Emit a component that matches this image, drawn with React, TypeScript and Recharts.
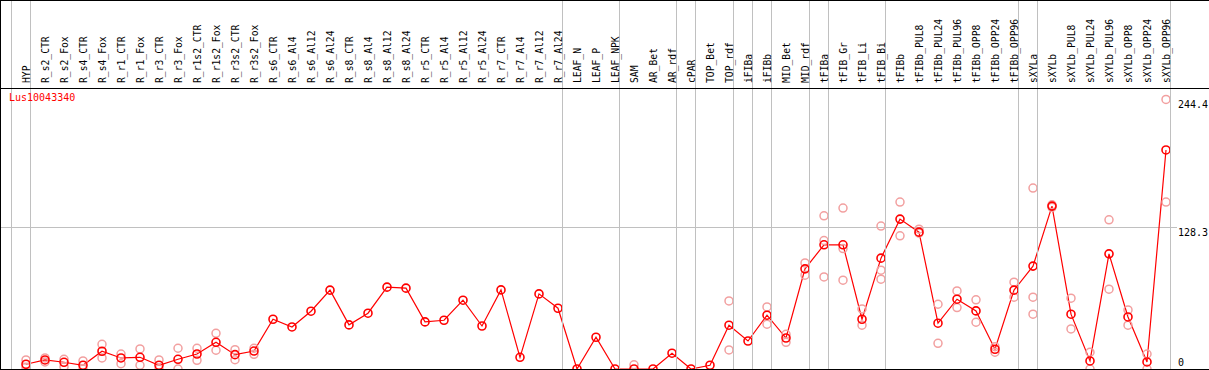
import React from "react";
import {
  ComposedChart,
  Line,
  XAxis,
  YAxis,
  ReferenceLine,
} from "recharts";

// sample names, left to right
const categories = [
  "HYP", "R_s2_CTR", "R_s2_Fox", "R_s4_CTR", "R_s4_Fox", "R_r1_CTR", "R_r1_Fox",
  "R_r3_CTR", "R_r3_Fox", "R_r1s2_CTR", "R_r1s2_Fox", "R_r3s2_CTR", "R_r3s2_Fox",
  "R_s6_CTR", "R_s6_Al4", "R_s6_Al12", "R_s6_Al24", "R_s8_CTR", "R_s8_Al4",
  "R_s8_Al12", "R_s8_Al24", "R_r5_CTR", "R_r5_Al4", "R_r5_Al12", "R_r5_Al24",
  "R_r7_CTR", "R_r7_Al4", "R_r7_Al12", "R_r7_Al24", "LEAF_N", "LEAF_P", "LEAF_NPK",
  "SAM", "AR_Bet", "AR_rdf", "cPAR", "TOP_Bet", "TOP_rdf", "iFIBa", "iFIBb",
  "MID_Bet", "MID_rdf", "tFIBa", "tFIB_Gr", "tFIB_Li", "tFIB_Bi", "tFIBb",
  "tFIBb_PUL8", "tFIBb_PUL24", "tFIBb_PUL96", "tFIBb_OPP8", "tFIBb_OPP24",
  "tFIBb_OPP96", "sXYLa", "sXYLb", "sXYLb_PUL8", "sXYLb_PUL24", "sXYLb_PUL96",
  "sXYLb_OPP8", "sXYLb_OPP24", "sXYLb_OPP96",
];

// mean expression
const meanValues = [
  4.3, 8.2, 6.1, 3.4, 16.1, 10.0, 10.6, 3.4, 8.8, 13.6, 24.2, 13.0, 16.3,
  45.1, 38.1, 52.4, 71.5, 40.0, 50.6, 74.2, 73.3, 42.7, 44.2, 62.4, 39.0,
  71.7, 10.6, 68.1, 55.1, 0, 28.8, 0,
  0, 0, 14.3, 0, 3.4, 39.7, 25.4, 48.8, 28.1, 90.8, 112.6, 112.6, 45.1, 100.5,
  135.9, 124.1, 41.5, 63.3, 52.7, 17.9, 71.5, 93.3, 147.7, 49.7, 7.3, 104.4,
  47.2, 6.4, 198.6,
];

// replicates (null where hidden under the mean marker)
const rep1 = [
  8.2, 10.0, 8.8, 7.3, 22.4, 13.6, 18.2, 8.2, 18.8, 18.8, 32.4, 17.5, 18.8,
  null, null, null, null, null, null, null, null, null, null, null, null,
  null, null, null, null, null, null, null,
  3.8, null, null, null, null, 61.7, null, 56.3, 31.5, 96.2, 138.9, 145.9, 54.5, 129.6,
  151.4, 126.8, 58.7, 70.8, 62.7, 20.2, 78.7, 164.1, 148.9, 64.2, 15.2, 135.3,
  53.6, 13.6, 244.4,
];
const rep2 = [
  1.5, 6.4, 2.1, 0, 10.0, 4.8, 3.4, 0, 0, 7.9, 17.0, 8.4, 13.3,
  null, null, null, null, null, null, null, null, null, null, null, null,
  null, null, null, null, null, null, null,
  null, null, null, null, null, 17.3, null, 40.6, 24.2, 85.1, 116.5, 109.2, 39.7, 89.6,
  120.8, 123.2, 23.3, 55.7, 42.4, 15.2, 65.1, 65.1, 146.6, 36.3, 0, 72.4,
  39.7, 0, 151.4,
];
const rep3 = [
  null, null, null, null, null, null, null, null, null, null, null, null, null,
  null, null, null, null, null, null, null, null, null, null, null, null,
  null, null, null, null, null, null, null,
  null, null, null, null, null, null, null, null, null, null, 83.5, 80.5, null, 81.4,
  null, null, null, null, null, null, null, 49.7, null, null, null, null,
  null, null, null,
];

// groups end after these samples (grey separators)
const groupEnds = [
  "HYP", "R_r7_Al24", "LEAF_NPK", "AR_rdf", "cPAR", "TOP_rdf", "iFIBa", "iFIBb",
  "MID_rdf", "tFIBa", "tFIB_Bi", "tFIBb_OPP96", "sXYLa", "sXYLb_OPP96",
];

const yTicks = [0, 128.3, 244.4];
const geneId = "Lus10043340";

const MONO = "DejaVu Sans Mono";
const RED = "#ff0000";
const PINK = "#f2a0a0";
const GREY = "#c0c0c0";

const data = categories.map((name, i) => ({
  idx: i,
  name,
  mean: meanValues[i],
  r1: rep1[i],
  r2: rep2[i],
  r3: rep3[i],
}));

const sepIdx = new Set<number>([-1, ...groupEnds.map((g) => categories.indexOf(g))]);

const SampleTick = (props: any) => {
  const { x, payload } = props;
  const i = payload.value as number;
  const label = categories[i];
  return (
    <g>
      {sepIdx.has(i) && (
        <line x1={x + 4.5} x2={x + 4.5} y1={0} y2={369} stroke={GREY} strokeWidth={1} />
      )}
      {label && (
        <text
          x={x}
          y={83}
          transform={`rotate(-90, ${x}, 83)`}
          textAnchor="start"
          dominantBaseline="central"
          fontFamily={MONO}
          fontSize={9.7}
          fill="#000"
        >
          {label}
        </text>
      )}
    </g>
  );
};

const ValueTick = (props: any) => {
  const { y, payload } = props;
  return (
    <text
      x={1178}
      y={Math.min(y + 5, 362)}
      dominantBaseline="central"
      fontFamily={MONO}
      fontSize={10}
      fill="#000"
    >
      {String(payload.value)}
    </text>
  );
};

const RepDot = (props: any) => {
  const { cx, cy, value, index } = props;
  if (value == null || cy == null) return <g key={`e${index}`} />;
  return (
    <circle
      key={`r${index}`}
      cx={cx}
      cy={cy}
      r={4}
      fill="none"
      stroke={PINK}
      strokeWidth={1.5}
    />
  );
};

export default function App() {
  const sampleTicks = [-1, ...categories.map((_, i) => i)];
  return (
    <div style={{ position: "absolute", left: 0, top: 0, width: 1209, height: 370, background: "#fff" }}>
      <ComposedChart
        width={1209}
        height={370}
        data={data}
        margin={{ top: 0, right: 0, bottom: 1, left: 0 }}
      >
        <XAxis
          type="number"
          dataKey="idx"
          orientation="top"
          height={86}
          domain={[-26 / 19, 1151 / 19]}
          allowDataOverflow
          ticks={sampleTicks}
          interval={0}
          axisLine={false}
          tickLine={false}
          tick={<SampleTick />}
        />
        <YAxis
          orientation="right"
          width={32}
          domain={[0, 256.6]}
          allowDataOverflow
          ticks={yTicks}
          interval={0}
          axisLine={false}
          tickLine={false}
          tick={<ValueTick />}
        />
        <ReferenceLine y={128.3} stroke={GREY} strokeWidth={1} />
        {(["r1", "r2", "r3"] as const).map((k) => (
          <Line
            key={k}
            dataKey={k}
            stroke="none"
            dot={<RepDot />}
            activeDot={false}
            legendType="none"
            isAnimationActive={false}
          />
        ))}
        <Line
          dataKey="mean"
          stroke={RED}
          strokeWidth={1.2}
          dot={{ r: 4, stroke: RED, strokeWidth: 1.6, fill: "none" }}
          activeDot={false}
          isAnimationActive={false}
        />
      </ComposedChart>
      <svg
        width={1209}
        height={370}
        style={{ position: "absolute", left: 0, top: 0, pointerEvents: "none" }}
      >
        <line x1={0} x2={1209} y1={0.5} y2={0.5} stroke="#000" />
        <line x1={0} x2={1209} y1={88.5} y2={88.5} stroke="#000" />
        <line x1={0} x2={1209} y1={369.5} y2={369.5} stroke="#000" />
        <line x1={0.5} x2={0.5} y1={0} y2={370} stroke="#000" />
        <text x={9} y={97} dominantBaseline="central" fontFamily={MONO} fontSize={10} fill={RED}>
          {geneId}
        </text>
      </svg>
    </div>
  );
}
